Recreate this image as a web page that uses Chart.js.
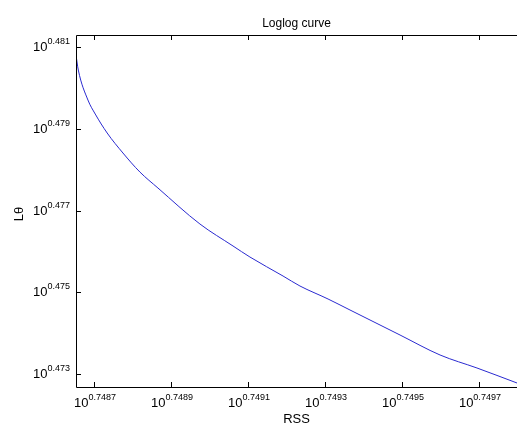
<!DOCTYPE html>
<html>
<head>
<meta charset="utf-8">
<script src="https://cdn.jsdelivr.net/npm/chart.js@4.4.0/dist/chart.umd.min.js"></script>
<style>
  html, body { margin: 0; padding: 0; background: #fff; overflow: hidden; }
</style>
</head>
<body>
<canvas id="c" width="517" height="425"></canvas>
<script>
// values, as log10 exponents (axes are log-log)
const rssExp = [0.748653, 0.748659, 0.748684, 0.748703, 0.748734, 0.748775, 0.748819, 0.748866,
    0.748975, 0.749061, 0.749105, 0.749191, 0.749235, 0.749308, 0.749365, 0.749495, 0.749599,
    0.749695, 0.749799]
const lthetaExp = [0.480804, 0.480437, 0.479703, 0.479360, 0.478896, 0.478407, 0.477942, 0.477550,
    0.476670, 0.476132, 0.475862, 0.475397, 0.475153, 0.474835, 0.474566, 0.473954, 0.473465,
    0.473147, 0.472780]
const xTickExp = [0.7487, 0.7489, 0.7491, 0.7493, 0.7495, 0.7497]
const yTickExp = [0.473, 0.475, 0.477, 0.479, 0.481]
const xRangeExp = [0.748653, 0.749799]
const yRangeExp = [0.472682, 0.481294]

const pow10 = e => Math.pow(10, e)
const FONT = '"Liberation Sans", Arial, sans-serif'

// draws "10" with a superscript exponent
function drawPow(ctx, expText, x, baseY, align) {
    ctx.font = '13px ' + FONT
    const wBase = ctx.measureText('10').width
    ctx.font = '9px ' + FONT
    const wExp = ctx.measureText(expText).width
    const total = wBase + wExp
    let left = align === 'center' ? x - total / 2 : x - total
    ctx.textAlign = 'left'
    ctx.textBaseline = 'alphabetic'
    ctx.font = '13px ' + FONT
    ctx.fillText('10', left, baseY)
    ctx.font = '9px ' + FONT
    ctx.fillText(expText, left + wBase, baseY - 7)
}

const matlabAxes = {
    id: 'matlabAxes',
    afterDraw(chart) {
        const { ctx, chartArea: a, scales } = chart
        ctx.save()
        ctx.strokeStyle = '#000'
        ctx.fillStyle = '#000'
        ctx.lineWidth = 1

        // frame (right edge falls outside the picture)
        ctx.beginPath()
        ctx.moveTo(a.right + 5, a.top + 0.5)
        ctx.lineTo(a.left + 0.5, a.top + 0.5)
        ctx.lineTo(a.left + 0.5, a.bottom + 0.5)
        ctx.lineTo(a.right + 5, a.bottom + 0.5)
        ctx.stroke()

        // inward ticks
        ctx.beginPath()
        xTickExp.forEach(e => {
            const px = Math.round(scales.x.getPixelForValue(pow10(e))) + 0.5
            ctx.moveTo(px, a.bottom); ctx.lineTo(px, a.bottom - 5)
            ctx.moveTo(px, a.top); ctx.lineTo(px, a.top + 5)
        })
        yTickExp.forEach(e => {
            const py = Math.round(scales.y.getPixelForValue(pow10(e))) + 0.5
            ctx.moveTo(a.left, py); ctx.lineTo(a.left + 5, py)
        })
        ctx.stroke()

        // tick labels
        xTickExp.forEach(e => {
            const px = scales.x.getPixelForValue(pow10(e))
            drawPow(ctx, e.toFixed(4), px + 1, a.bottom + 20, 'center')
        })
        yTickExp.forEach(e => {
            const py = scales.y.getPixelForValue(pow10(e))
            drawPow(ctx, e.toFixed(3), a.left - 6, py + 4, 'right')
        })

        // title and axis labels
        ctx.textAlign = 'center'
        ctx.textBaseline = 'alphabetic'
        ctx.font = '12px ' + FONT
        ctx.fillText('Loglog curve', (a.left + a.right) / 2, 27)
        ctx.font = '13px ' + FONT
        ctx.fillText('RSS', (a.left + a.right) / 2, 423)
        ctx.translate(23, (a.top + a.bottom) / 2 + 3)
        ctx.rotate(-Math.PI / 2)
        ctx.fillText('Lθ', 0, 0)
        ctx.restore()
    }
}

new Chart(document.getElementById('c').getContext('2d'), {
    type: 'line',
    data: {
        datasets: [{
            data: rssExp.map((e, i) => ({ x: pow10(e), y: pow10(lthetaExp[i]) })),
            borderColor: '#2a2ad0',
            borderWidth: 1,
            pointRadius: 0,
            cubicInterpolationMode: 'monotone',
            fill: false
        }]
    },
    options: {
        responsive: false,
        animation: false,
        devicePixelRatio: 1,
        layout: { padding: { left: 76, top: 35, right: 0, bottom: 38 } },
        scales: {
            x: { type: 'logarithmic', min: pow10(xRangeExp[0]), max: pow10(xRangeExp[1]), display: false },
            y: { type: 'logarithmic', min: pow10(yRangeExp[0]), max: pow10(yRangeExp[1]), display: false }
        },
        plugins: { legend: { display: false }, tooltip: { enabled: false } }
    },
    plugins: [matlabAxes]
})
</script>
</body>
</html>
